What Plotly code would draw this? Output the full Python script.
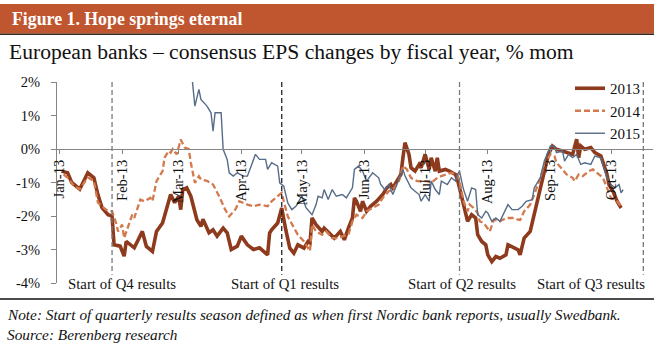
import plotly.graph_objects as go

# ---- data: consensus EPS change by fiscal year, % month-on-month (2013 dates, MM-DD) ----
dates_2013 = ["01-02", "01-05", "01-07", "01-11", "01-15", "01-18", "01-20", "01-22", "01-25", "01-27",
              "01-28", "01-31", "02-02", "02-03", "02-07", "02-11", "02-13", "02-16", "02-18", "02-21",
              "02-25", "02-27", "03-01", "03-02", "03-03", "03-05", "03-07", "03-10", "03-12", "03-13",
              "03-16", "03-18", "03-20", "03-23", "03-25", "03-27", "03-30", "04-01", "04-04", "04-07",
              "04-10", "04-14", "04-15", "04-16", "04-19", "04-21", "04-23", "04-25", "04-27", "04-29",
              "05-02", "05-04", "05-05", "05-06", "05-08", "05-11", "05-12", "05-15", "05-17", "05-20",
              "05-22", "05-24", "05-26", "05-27", "05-28", "05-30", "05-31", "06-02", "06-04", "06-07",
              "06-10", "06-12", "06-14", "06-15", "06-19", "06-20", "06-21", "06-23", "06-24", "06-26",
              "06-28", "06-29", "07-01", "07-03", "07-04", "07-06", "07-07", "07-08", "07-11", "07-13",
              "07-16", "07-17", "07-19", "07-21", "07-22", "07-24", "07-26", "07-27", "07-29", "07-31",
              "08-01", "08-03", "08-05", "08-07", "08-10", "08-11", "08-14", "08-16", "08-17", "08-19",
              "08-22", "08-24", "08-27", "08-29", "08-31", "09-02", "09-04", "09-07", "09-10", "09-12",
              "09-14", "09-15", "09-16", "09-18", "09-21", "09-23", "09-26", "09-27", "09-29", "09-30",
              "10-02", "10-04", "10-06"]
eps_2013 = [-0.66, -0.71, -1.00, -1.20, -0.71, -0.86, -1.36, -1.75, -1.96, -2.00,
            -2.86, -2.90, -3.20, -2.76, -2.95, -2.46, -2.91, -3.06, -2.46, -2.21,
            -1.36, -1.60, -1.41, -1.81, -1.21, -1.16, -1.41, -2.11, -2.31, -2.10,
            -2.50, -2.41, -2.60, -2.36, -2.50, -3.00, -2.90, -2.60, -2.86, -3.00,
            -2.95, -3.16, -2.51, -2.41, -2.21, -1.76, -2.41, -2.96, -3.11, -2.86,
            -2.96, -2.76, -2.80, -2.06, -2.26, -2.46, -2.36, -2.56, -2.66, -2.46,
            -2.71, -2.36, -2.06, -1.46, -1.56, -1.86, -1.56, -1.86, -1.71, -1.56,
            -1.36, -1.16, -1.06, -1.16, -0.76, -0.26, 0.19, -0.16, -0.56, -0.66,
            -0.46, -0.56, -0.16, -0.61, -0.26, -0.66, -0.26, -0.66, -0.61, -0.66,
            -0.76, -0.91, -1.46, -1.96, -2.16, -1.96, -2.06, -2.56, -2.76, -2.86,
            -3.16, -3.36, -3.21, -3.26, -3.16, -2.86, -2.96, -3.01, -3.16, -2.66,
            -2.46, -1.96, -1.26, -0.66, -0.16, 0.09, -0.01, -0.06, -0.11, -0.16,
            0.29, -0.26, 0.09, -0.01, 0.04, -0.11, -0.21, -0.41, -0.76, -1.06,
            -1.26, -1.56, -1.76]

dates_2014 = ["01-03", "01-05", "01-08", "01-11", "01-15", "01-18", "01-20", "01-24", "01-27", "01-29",
              "01-30", "02-01", "02-02", "02-04", "02-06", "02-07", "02-10", "02-12", "02-15", "02-16",
              "02-18", "02-21", "02-22", "02-24", "02-25", "02-26", "02-28", "03-02", "03-04", "03-06",
              "03-07", "03-09", "03-11", "03-12", "03-15", "03-18", "03-21", "03-24", "03-26", "03-29",
              "03-31", "04-04", "04-07", "04-10", "04-14", "04-16", "04-19", "04-21", "04-22", "04-24",
              "04-27", "04-29", "05-02", "05-05", "05-06", "05-08", "05-11", "05-13", "05-16", "05-19",
              "05-21", "05-24", "05-26", "05-28", "05-31", "06-02", "06-05", "06-08", "06-10", "06-13",
              "06-15", "06-18", "06-20", "06-22", "06-24", "06-27", "06-29", "07-02", "07-04", "07-07",
              "07-09", "07-12", "07-14", "07-17", "07-18", "07-20", "07-22", "07-23", "07-25", "07-27",
              "07-28", "07-30", "08-02", "08-04", "08-07", "08-10", "08-14", "08-16", "08-17", "08-19",
              "08-22", "08-24", "08-27", "08-29", "09-01", "09-03", "09-04", "09-07", "09-09", "09-12",
              "09-13", "09-15", "09-17", "09-20", "09-22", "09-25", "09-27", "09-29", "10-01", "10-04",
              "10-06"]
eps_2014 = [-0.76, -0.85, -1.10, -1.20, -0.85, -0.95, -1.60, -1.81, -1.86, -2.21,
            -2.46, -2.26, -2.66, -2.31, -1.96, -2.06, -1.51, -1.56, -1.46, -1.56,
            -0.96, -0.66, -0.26, -0.06, -0.11, 0.00, -0.16, 0.28, 0.04, 0.00,
            -0.41, -1.01, -0.81, -0.91, -0.95, -1.06, -1.41, -1.81, -2.01, -1.81,
            -1.56, -1.66, -1.71, -1.66, -1.71, -1.56, -1.41, -1.31, -1.56, -2.01,
            -2.35, -2.56, -2.76, -3.05, -2.26, -2.46, -2.56, -2.46, -2.66, -2.66,
            -2.61, -2.56, -2.16, -1.96, -2.06, -1.86, -1.76, -1.66, -1.46, -1.26,
            -1.21, -0.96, -0.51, -0.61, -0.86, -0.96, -0.96, -0.96, -1.01, -0.86,
            -0.81, -0.76, -0.71, -0.76, -0.96, -1.56, -1.86, -1.66, -1.76, -1.91,
            -2.16, -2.21, -2.46, -2.11, -2.16, -2.06, -2.06, -2.11, -2.12, -1.86,
            -1.66, -1.36, -0.86, -0.46, -0.16, -0.21, -0.41, -0.61, -0.76, -0.86,
            -0.96, -0.76, -0.81, -0.66, -0.61, -0.76, -0.86, -1.16, -1.46, -1.56,
            -1.71]

dates_2015 = ["03-07", "03-09", "03-11", "03-12", "03-15", "03-17", "03-18", "03-19", "03-22", "03-23",
              "03-25", "03-26", "03-28", "03-30", "04-02", "04-04", "04-08", "04-10", "04-13", "04-14",
              "04-16", "04-19", "04-20", "04-22", "04-24", "04-26", "04-28", "05-01", "05-03", "05-06",
              "05-08", "05-09", "05-11", "05-12", "05-14", "05-16", "05-18", "05-21", "05-23", "05-26",
              "05-27", "05-29", "05-31", "06-02", "06-05", "06-08", "06-09", "06-11", "06-13", "06-15",
              "06-17", "06-19", "06-20", "06-21", "06-24", "06-26", "06-28", "06-29", "07-01", "07-03",
              "07-04", "07-06", "07-08", "07-09", "07-12", "07-14", "07-16", "07-17", "07-18", "07-20",
              "07-22", "07-24", "07-26", "07-27", "07-29", "07-31", "08-01", "08-03", "08-05", "08-07",
              "08-09", "08-11", "08-13", "08-16", "08-18", "08-20", "08-23", "08-24", "08-27", "08-29",
              "09-01", "09-03", "09-04", "09-07", "09-08", "09-10", "09-12", "09-14", "09-16", "09-18",
              "09-21", "09-23", "09-26", "09-27", "09-29", "10-01", "10-03", "10-05", "10-06", "10-07"]
eps_2015 = [2.50, 1.28, 1.78, 1.48, 1.28, 1.08, 0.53, 1.08, 1.08, -0.01,
            -0.31, -0.71, -0.81, -0.71, -0.81, -0.81, -0.16, -0.31, -0.31, -0.61,
            -0.41, -0.51, -1.01, -1.11, -1.61, -1.81, -1.71, -1.40, -1.75, -1.96,
            -1.66, -1.41, -1.46, -1.21, -1.51, -1.21, -1.41, -1.36, -1.46, -1.16,
            -0.61, -0.51, -0.66, -0.96, -0.71, -0.86, -1.06, -1.21, -1.06, -1.36,
            -1.06, -0.76, -0.61, -0.80, -1.16, -1.26, -1.36, -1.56, -1.36, -1.56,
            -0.96, -1.21, -1.36, -0.96, -1.06, -0.86, -0.96, -0.76, -0.66, -1.21,
            -1.56, -1.16, -1.21, -1.96, -2.06, -1.86, -1.91, -2.16, -2.06, -2.16,
            -1.91, -1.66, -1.81, -1.81, -1.71, -1.56, -1.51, -1.16, -0.86, -0.36,
            0.09, 0.09, -0.11, -0.06, -0.36, -0.16, -0.26, -0.16, -0.46, -0.41,
            -0.46, -0.21, -0.26, -0.46, -0.86, -1.06, -1.16, -1.06, -1.31, -1.21]

# start of each quarterly reporting season
season_labels = ["Start of Q4 results", "Start of Q1 results", "Start of Q2 results", "Start of Q3 results"]
season_dates = ["01-27", "04-21", "07-18", "10-17"]

y_tickvals = [2, 1, 0, -1, -2, -3, -4]
y_ticktext = ["2%", "1%", "0%", "-1%", "-2%", "-3%", "-4%"]

YEAR = "2013-"
FONT = "Liberation Serif"

# ---- page geometry ----
W, H = 654, 343
L, R, T, B = 57, 1, 82, 60
PW, PH = W - L - R, H - T - B


def px(x):
    return (x - L) / PW


def py(y):
    return (H - B - y) / PH


fig = go.Figure()

series = [
    ("2013", dates_2013, eps_2013, dict(color="#8E3A1C", width=3.6)),
    ("2014", dates_2014, eps_2014, dict(color="#D27A4E", width=2.3, dash="6px,3px")),
    ("2015", dates_2015, eps_2015, dict(color="#566C88", width=1.4)),
]
for name, d, v, line in series:
    fig.add_trace(go.Scatter(
        x=[YEAR + s for s in d], y=v, name=name, mode="lines", line=line,
    ))

# results-season markers
label_shift = [10, 3, 2, 4]
for i, (lab, d) in enumerate(zip(season_labels, season_dates)):
    fig.add_shape(type="line", xref="x", yref="y",
                  x0=YEAR + d, x1=YEAR + d, y0=2, y1=-3.75,
                  line=dict(color="#222222" if i == 1 else "#7A7A7A", width=1.3, dash="5px,3px"))
    fig.add_annotation(x=YEAR + d, y=-4, xref="x", yref="y", text=lab, showarrow=False,
                       xanchor="right" if i == 3 else "center", yanchor="middle",
                       xshift=label_shift[i], yshift=-1,
                       font=dict(family=FONT, size=14.8, color="#111111"))

# header bar
fig.add_shape(type="rect", xref="paper", yref="paper",
              x0=px(0), x1=px(W), y0=py(33.5), y1=py(4),
              fillcolor="#C0562F", line=dict(width=0), layer="below")
fig.add_shape(type="line", xref="paper", yref="paper",
              x0=px(0), x1=px(W), y0=py(34.3), y1=py(34.3),
              line=dict(color="#3A2418", width=1.4))
fig.add_annotation(xref="paper", yref="paper", x=px(10), y=py(19), xanchor="left", yanchor="middle",
                   text="<b>Figure 1. Hope springs eternal</b>", showarrow=False,
                   font=dict(family=FONT, size=17.8, color="white"))
fig.add_annotation(xref="paper", yref="paper", x=px(7), y=py(52), xanchor="left", yanchor="middle",
                   text="European banks \u2013 consensus EPS changes by fiscal year, % mom", showarrow=False,
                   font=dict(family=FONT, size=21.6, color="#111111"))

# footer
fig.add_shape(type="line", xref="paper", yref="paper",
              x0=px(0), x1=px(W), y0=py(299), y1=py(299),
              line=dict(color="#111111", width=1.5))
fig.add_annotation(xref="paper", yref="paper", x=px(5), y=py(314), xanchor="left", yanchor="middle",
                   text="<i>Note: Start of quarterly results season defined as when first Nordic bank reports, usually Swedbank.</i>",
                   showarrow=False, font=dict(family=FONT, size=15.3, color="#111111"))
fig.add_annotation(xref="paper", yref="paper", x=px(5), y=py(334), xanchor="left", yanchor="middle",
                   text="<i>Source: Berenberg research</i>",
                   showarrow=False, font=dict(family=FONT, size=15.3, color="#111111"))

fig.update_layout(
    width=W, height=H,
    margin=dict(l=L, r=R, t=T, b=B, pad=0),
    paper_bgcolor="white", plot_bgcolor="white",
    font=dict(family=FONT, size=14.5, color="#111111"),
    showlegend=True,
    legend=dict(x=px(646), y=py(72), xanchor="right", yanchor="top",
                bgcolor="rgba(0,0,0,0)", font=dict(family=FONT, size=15, color="#111111"),
                tracegroupgap=0, itemwidth=30),
    xaxis=dict(
        type="date", range=["2012-12-30 18:00", "2013-10-21 19:00"],
        anchor="free", position=4 / 6,
        showline=True, linecolor="#858585", linewidth=1,
        showgrid=False, zeroline=False,
        ticks="outside", ticklen=4, tickcolor="#858585",
        tick0="2013-01-01", dtick="M1", tickformat="%b-%y", tickangle=-90,
        tickfont=dict(family=FONT, size=14.5, color="#111111"),
    ),
    yaxis=dict(
        range=[-4, 2], tickvals=y_tickvals, ticktext=y_ticktext,
        showline=True, linecolor="#858585", linewidth=1,
        showgrid=False, zeroline=False,
        ticks="outside", ticklen=5, tickcolor="#858585", ticklabelstandoff=8,
        tickfont=dict(family=FONT, size=14.5, color="#111111"),
    ),
)

fig.write_html("out.html", config={"displayModeBar": False})
